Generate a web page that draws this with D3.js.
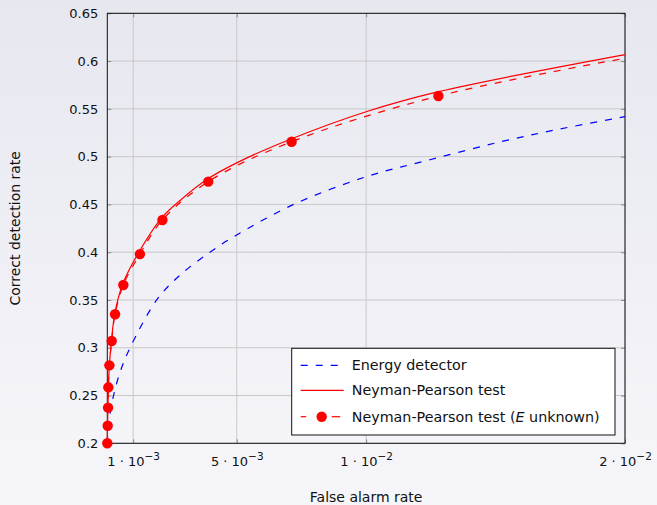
<!DOCTYPE html>
<html>
<head>
<meta charset="utf-8">
<script src="https://cdn.jsdelivr.net/npm/d3@7"></script>
<style>
  html, body { margin: 0; padding: 0; }
  body { width: 657px; height: 505px; overflow: hidden; }
  text { font-family: "DejaVu Sans", sans-serif; fill: #111; }
</style>
</head>
<body>
<div class="canvas"></div>
<script>
// false alarm rate / detection rate
const energyFa = [0, 0.00003, 0.0001, 0.00024, 0.0005, 0.00088, 0.00191, 0.00274, 0.0039, 0.005, 0.0072, 0.01, 0.0125, 0.0152, 0.0175, 0.02];
const energyPd = [0.2, 0.215, 0.23, 0.25, 0.275, 0.30, 0.35, 0.3743, 0.3988, 0.418, 0.45, 0.479, 0.497, 0.5156, 0.529, 0.5418];

const npFa = [0, 0.00001, 0.000025, 0.00004, 0.00008, 0.00016, 0.00029, 0.0006, 0.00122, 0.0021, 0.0028, 0.0039, 0.005, 0.0071, 0.01, 0.0128, 0.02];
const npPd = [0.2, 0.2184, 0.2373, 0.2586, 0.2816, 0.3071, 0.336, 0.367, 0.4, 0.436, 0.4539, 0.477, 0.4935, 0.5185, 0.547, 0.568, 0.6068];

const npUnkFa = [0, 0.000015, 0.00003, 0.00004, 0.00008, 0.00017, 0.0003, 0.00062, 0.00126, 0.00213, 0.0039, 0.00712, 0.01279, 0.02];
const npUnkPd = [0.2, 0.2184, 0.2373, 0.2586, 0.2816, 0.3071, 0.335, 0.3657, 0.398, 0.4337, 0.4738, 0.5156, 0.5634, 0.6029];
const npUnkMarked = [0, 1, 2, 3, 4, 5, 6, 7, 8, 9, 10, 11, 12];

const xTicks = [0.001, 0.005, 0.01, 0.02];
const xTickMant = ['1', '5', '1', '2'];
const xTickExp = ['\u22123', '\u22123', '\u22122', '\u22122'];
const yTicks = [0.2, 0.25, 0.3, 0.35, 0.4, 0.45, 0.5, 0.55, 0.6, 0.65];

const legendNames = ['Energy detector', 'Neyman-Pearson test', 'Neyman-Pearson test ('];

const dims = { width: 657, height: 505 };
const margin = { left: 107.3, right: 32, top: 13.3, bottom: 61.7 };
const inner = {
    w: dims.width - margin.left - margin.right,
    h: dims.height - margin.top - margin.bottom
};

const svg = d3.select('.canvas')
    .append('svg')
    .attr('width', dims.width)
    .attr('height', dims.height)
;

const grad = svg.append('defs').append('linearGradient')
    .attr('id', 'bg')
    .attr('x1', 0).attr('y1', 0).attr('x2', 0).attr('y2', 1)
;
grad.append('stop').attr('offset', '0%').attr('stop-color', '#e7e7f0');
grad.append('stop').attr('offset', '100%').attr('stop-color', '#f6f6fa');

svg.append('rect')
    .attr('width', dims.width)
    .attr('height', dims.height)
    .attr('fill', 'url(#bg)')
;

const graph = svg.append('g')
    .attr('transform', `translate(${margin.left}, ${margin.top})`)
;

const x = d3.scaleLinear().domain([0, 0.02]).range([0, inner.w]);
const y = d3.scaleLinear().domain([0.2, 0.65]).range([inner.h, 0]);

// grid
graph.append('g')
    .selectAll('line.gx')
    .data(xTicks)
    .enter().append('line')
    .attr('x1', d => x(d)).attr('x2', d => x(d))
    .attr('y1', 0).attr('y2', inner.h)
    .attr('stroke', '#c9c9c9')
;
graph.append('g')
    .selectAll('line.gy')
    .data(yTicks)
    .enter().append('line')
    .attr('x1', 0).attr('x2', inner.w)
    .attr('y1', d => y(d)).attr('y2', d => y(d))
    .attr('stroke', '#c9c9c9')
;

// axes: tick marks pointing inward on all four sides
const xAxis = graph.append('g')
    .attr('transform', `translate(0, ${inner.h})`)
    .call(d3.axisBottom(x).tickValues(xTicks).tickSize(-4).tickPadding(13).tickSizeOuter(0))
;
graph.append('g')
    .call(d3.axisTop(x).tickValues(xTicks).tickSize(-4).tickFormat('').tickSizeOuter(0))
;
graph.append('g')
    .call(d3.axisLeft(y).tickValues(yTicks).tickSize(-4).tickPadding(9).tickSizeOuter(0)
        .tickFormat(d => String(+d.toFixed(2))))
;
graph.append('g')
    .attr('transform', `translate(${inner.w}, 0)`)
    .call(d3.axisRight(y).tickValues(yTicks).tickSize(-4).tickFormat('').tickSizeOuter(0))
;

graph.selectAll('.domain').remove();
graph.selectAll('.tick line').attr('stroke', '#8a8a8a');
graph.selectAll('.tick text').attr('font-size', 13).attr('fill', '#111')
    .style('font-family', '"DejaVu Sans", sans-serif');

// x labels as mantissa · 10^exp
xAxis.selectAll('.tick text').each(function (d, i) {
    const t = d3.select(this);
    t.text(null);
    t.append('tspan').text(xTickMant[i] + ' \u00b7 10');
    t.append('tspan').attr('dy', -6).attr('font-size', 10.5).text(xTickExp[i]);
});

// frame
graph.append('rect')
    .attr('width', inner.w)
    .attr('height', inner.h)
    .attr('fill', 'none')
    .attr('stroke', '#111')
    .attr('stroke-width', 1)
;

const line = d3.line()
    .x(d => x(d[0]))
    .y(d => y(d[1]))
    .curve(d3.curveCatmullRom.alpha(0.5))
;

const energy = energyFa.map((v, i) => [v, energyPd[i]]);
const np = npFa.map((v, i) => [v, npPd[i]]);
const npUnk = npUnkFa.map((v, i) => [v, npUnkPd[i]]);

const plot = graph.append('g');

plot.append('path')
    .attr('d', line(energy))
    .attr('fill', 'none')
    .attr('stroke', '#0000ff')
    .attr('stroke-width', 1.2)
    .attr('stroke-dasharray', '7,8')
;

plot.append('path')
    .attr('d', line(np))
    .attr('fill', 'none')
    .attr('stroke', '#ff0000')
    .attr('stroke-width', 1.2)
;

plot.append('path')
    .attr('d', line(npUnk))
    .attr('fill', 'none')
    .attr('stroke', '#ff0000')
    .attr('stroke-width', 1.2)
    .attr('stroke-dasharray', '7,8')
;

plot.selectAll('circle')
    .data(npUnkMarked.map(i => npUnk[i]))
    .enter().append('circle')
    .attr('cx', d => x(d[0]))
    .attr('cy', d => y(d[1]))
    .attr('r', 5.2)
    .attr('fill', '#ff0000')
;

// legend
const legend = svg.append('g').attr('transform', 'translate(291.7, 348.3)');
legend.append('rect')
    .attr('width', 323.3)
    .attr('height', 86.7)
    .attr('fill', 'white')
    .attr('stroke', '#111')
;

const rowY = [17, 42, 68.4];
legend.append('line')
    .attr('x1', 9).attr('x2', 52).attr('y1', rowY[0]).attr('y2', rowY[0])
    .attr('stroke', '#0000ff').attr('stroke-width', 1.2).attr('stroke-dasharray', '7,8');
legend.append('line')
    .attr('x1', 9).attr('x2', 52).attr('y1', rowY[1]).attr('y2', rowY[1])
    .attr('stroke', '#ff0000').attr('stroke-width', 1.2);
legend.append('line')
    .attr('x1', 9).attr('x2', 14.5).attr('y1', rowY[2]).attr('y2', rowY[2])
    .attr('stroke', '#ff0000').attr('stroke-width', 1.2);
legend.append('line')
    .attr('x1', 40).attr('x2', 48.5).attr('y1', rowY[2]).attr('y2', rowY[2])
    .attr('stroke', '#ff0000').attr('stroke-width', 1.2);
legend.append('circle')
    .attr('cx', 30).attr('cy', rowY[2]).attr('r', 5.2).attr('fill', '#ff0000');

const labels = legend.selectAll('text.lg')
    .data(legendNames)
    .enter().append('text')
    .attr('x', 60)
    .attr('y', (d, i) => rowY[i] + 5)
    .attr('font-size', 14.3)
;
labels.append('tspan').text(d => d);
labels.filter((d, i) => i === 2).each(function () {
    const t = d3.select(this);
    t.append('tspan').attr('font-style', 'italic').text('E');
    t.append('tspan').text(' unknown)');
});

// axis titles
svg.append('text')
    .attr('x', margin.left + inner.w / 2)
    .attr('y', 502)
    .attr('text-anchor', 'middle')
    .attr('font-size', 14)
    .text('False alarm rate')
;
svg.append('text')
    .attr('transform', `translate(20, ${margin.top + inner.h / 2}) rotate(-90)`)
    .attr('text-anchor', 'middle')
    .attr('font-size', 14)
    .text('Correct detection rate')
;
</script>
</body>
</html>
